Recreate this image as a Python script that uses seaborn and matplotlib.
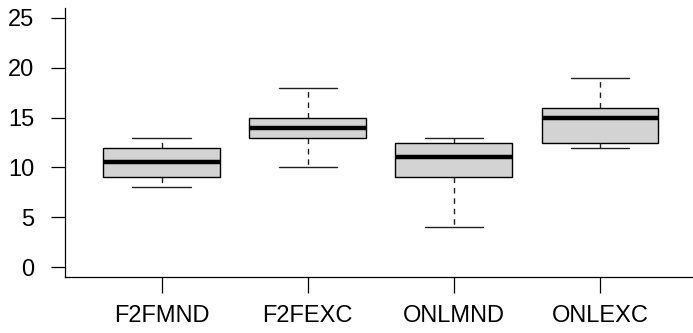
import seaborn as sns
import matplotlib.pyplot as plt
import pandas as pd

# five-number summaries (min, q1, median, q3, max)
groups = ["F2FMND", "F2FEXC", "ONLMND", "ONLEXC"]
f2fmnd = [8, 9, 10.5, 12, 13]
f2fexc = [10, 13, 14, 15, 18]
onlmnd = [4, 9, 11, 12.5, 13]
onlexc = [12, 12.5, 15, 16, 19]
yticks = [0, 5, 10, 15, 20, 25]

rows = []
for name, vals in zip(groups, [f2fmnd, f2fexc, onlmnd, onlexc]):
    for v in vals:
        rows.append({"group": name, "value": v})
df = pd.DataFrame(rows)

sns.set_style("ticks")
plt.rcParams['font.family'] = ['Liberation Sans', 'DejaVu Sans']

fig = plt.figure(figsize=(6.93, 3.33), dpi=100)
ax = fig.add_axes([0.094, 0.168, 0.911, 0.808])

sns.boxplot(data=df, x="group", y="value", order=groups, ax=ax,
            color="#D3D3D3", linecolor="black", linewidth=1.0,
            width=0.8, whis=(0, 100), saturation=1,
            medianprops={"linewidth": 3.2, "color": "black"},
            whiskerprops={"linestyle": (0, (4, 3.5)), "color": "#222222"},
            capprops={"color": "#222222"})

ax.set_xlim(-0.66, 3.66)
ax.set_ylim(-1, 26)
ax.set_yticks(yticks)
ax.set_yticklabels([str(t) for t in yticks])
ax.set_xlabel("")
ax.set_ylabel("")
for s in ["top", "right"]:
    ax.spines[s].set_visible(False)
for s in ["left", "bottom"]:
    ax.spines[s].set_linewidth(0.9)
    ax.spines[s].set_color("black")
ax.tick_params(axis="y", length=10, width=0.9, pad=12, labelsize=17, colors="black")
ax.tick_params(axis="x", length=11.5, width=0.9, pad=8.5, labelsize=17, colors="black")

fig.savefig("out.png", dpi=100)
